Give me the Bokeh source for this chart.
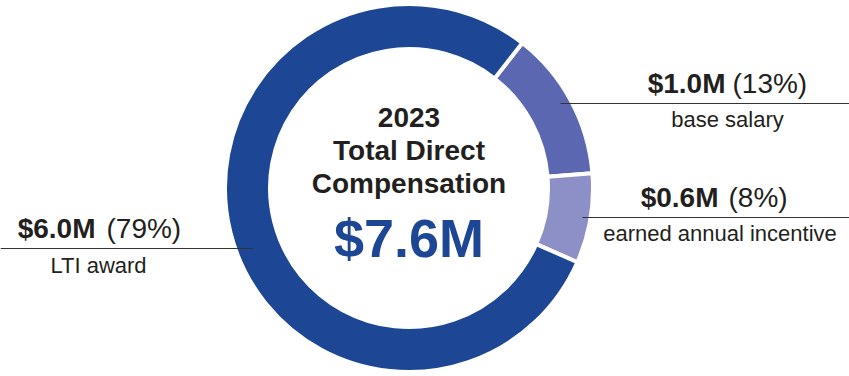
import numpy as np
from bokeh.plotting import figure
from bokeh.models import Range1d
from bokeh.core.properties import value
from bokeh.embed import file_html
from bokeh.resources import INLINE

# ---- data ----
categories = ["base salary", "earned annual incentive", "LTI award"]
amounts = [1.0, 0.6, 6.0]          # $M
amount_labels = ["$1.0M", "$0.6M", "$6.0M"]
pct_labels = ["(13%)", "(8%)", "(79%)"]
colors = ["#5B68B1", "#8D90C7", "#1D4794"]
year = "2023"
title_lines = ["Total Direct", "Compensation"]
total_label = "$7.6M"

W, H = 849, 376
FONT = "Liberation Sans"
DARK = "#231F20"

def Y(py):
    return H - py

def TY(py, fs):
    # baseline at pixel row py, compensating renderer baseline offset
    return H - py + 0.36 * fs

p = figure(width=W, height=H, output_backend="svg", toolbar_location=None,
           x_axis_type=None, y_axis_type=None, min_border=0,
           x_range=Range1d(0, W), y_range=Range1d(0, H))
p.grid.visible = False
p.outline_line_color = None
p.background_fill_color = "white"
p.border_fill_color = "white"

# donut
cx, cy = 408.5, Y(187.5)
r_in, r_out = 139, 184
vals = np.array(amounts)
fr = vals / vals.sum()
top = np.deg2rad(52)
cum = np.concatenate([[0], np.cumsum(fr)])
ends = top - 2 * np.pi * cum[:-1]
starts = top - 2 * np.pi * cum[1:]
p.annular_wedge(x=cx, y=cy, inner_radius=r_in, outer_radius=r_out,
                start_angle=starts, end_angle=ends, fill_color=colors,
                line_color="white", line_width=4)

# center texts
FS_T = 28
p.text(x=[cx], y=[TY(127, FS_T)], text=[year], text_font=value(FONT), text_font_style="bold",
       text_font_size=f"{FS_T}px", text_align="center", text_baseline="alphabetic", text_color=DARK)
p.text(x=[cx, cx], y=[TY(160, FS_T), TY(193, FS_T)], text=title_lines, text_font=value(FONT),
       text_font_style="bold", text_font_size=f"{FS_T}px", text_align="center",
       text_baseline="alphabetic", text_color=DARK)
FS_BIG = 54
p.text(x=[cx], y=[TY(257, FS_BIG)], text=[total_label], text_font=value(FONT), text_font_style="bold",
       text_font_size=f"{FS_BIG}px", text_align="center", text_baseline="alphabetic", text_color=colors[2])

# labels: (bold end x, regular start x, baseline y, line y, line x0, line x1, sub center x, sub baseline)
FS_L = 28
FS_S = 22
layout = [
    (725, 732, 93, 103, 560, 849, 727, 127),
    (718, 728, 207, 217, 582, 849, 719.5, 241),
    (95, 106, 238, 248, 0, 252, 98, 273),
]
for i, (bx, rx, by, ly, lx0, lx1, sx, sy) in enumerate(layout):
    p.text(x=[bx], y=[TY(by, FS_L)], text=[amount_labels[i]], text_font=value(FONT),
           text_font_style="bold", text_font_size=f"{FS_L}px", text_align="right",
           text_baseline="alphabetic", text_color=DARK)
    p.text(x=[rx], y=[TY(by, FS_L)], text=[pct_labels[i]], text_font=value(FONT),
           text_font_size=f"{FS_L}px", text_align="left", text_baseline="alphabetic", text_color=DARK)
    p.segment(x0=[lx0], y0=[Y(ly)], x1=[lx1], y1=[Y(ly)], line_color="#333333", line_width=1.2)
    p.text(x=[sx], y=[TY(sy, FS_S)], text=[categories[i]], text_font=value(FONT),
           text_font_size=f"{FS_S}px", text_align="center", text_baseline="alphabetic", text_color=DARK)

open("out.html", "w").write(file_html(p, INLINE))
